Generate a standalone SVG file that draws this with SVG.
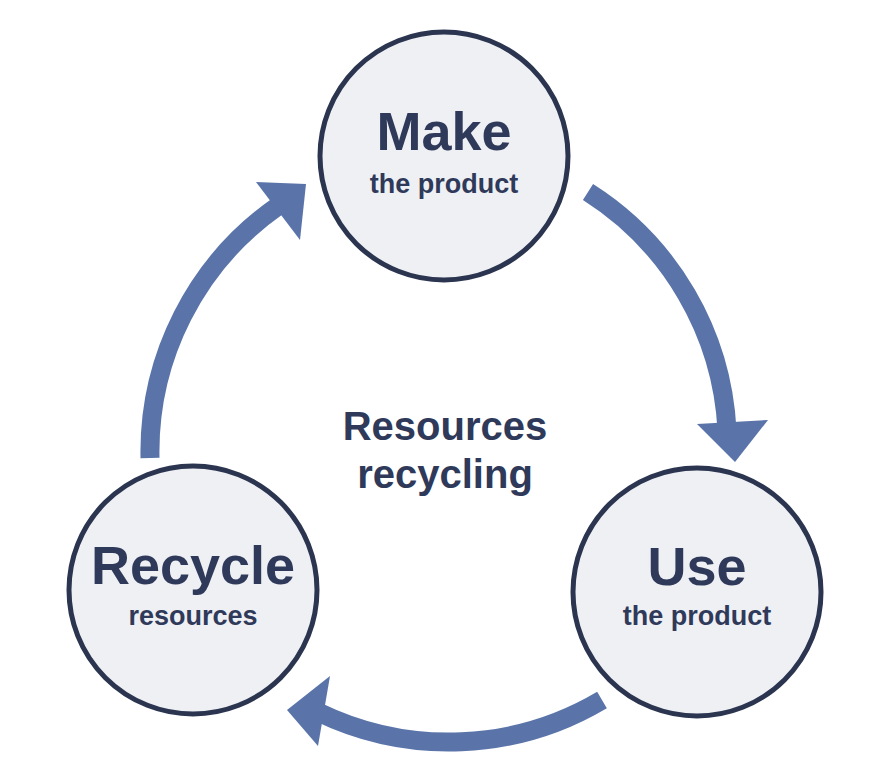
<svg xmlns="http://www.w3.org/2000/svg" width="893" height="769" viewBox="0 0 893 769">
<style>
.n{fill:#eff0f4;stroke:#2b3550;stroke-width:5}
.t{font-family:"Liberation Sans",Arial,sans-serif;font-weight:bold;fill:#2f3a5a;text-anchor:middle}
.a{fill:none;stroke:#5a74aa;stroke-width:19}
.h{fill:#5a74aa}
</style>
<rect width="893" height="769" fill="#fff"/>
<g id="connectors">
<path class="a" d="M588 192 A300 300 0 0 1 727 430"/>
<polygon class="h" points="697,424 768,420 735,462"/>
<path class="a" d="M602 700 A300 300 0 0 1 318 712"/>
<polygon class="h" points="330,676 318,746 287,710"/>
<path class="a" d="M150 458 A300 300 0 0 1 278 206"/>
<polygon class="h" points="256,182 306,184 300,240"/>
</g>
<g id="make"><circle class="n" cx="444" cy="156" r="124"/>
<text class="t" x="444" y="150" font-size="54">Make</text>
<text class="t" x="444" y="193" font-size="27">the product</text></g>
<g id="use"><circle class="n" cx="697" cy="592" r="124"/>
<text class="t" x="697" y="585" font-size="54">Use</text>
<text class="t" x="697" y="625" font-size="27">the product</text></g>
<g id="recycle"><circle class="n" cx="193" cy="590" r="124"/>
<text class="t" x="193" y="584" font-size="54">Recycle</text>
<text class="t" x="193" y="625" font-size="27">resources</text></g>
<g id="center"><text class="t" x="445" y="440" font-size="40">Resources</text>
<text class="t" x="445" y="488" font-size="40">recycling</text></g>
</svg>
